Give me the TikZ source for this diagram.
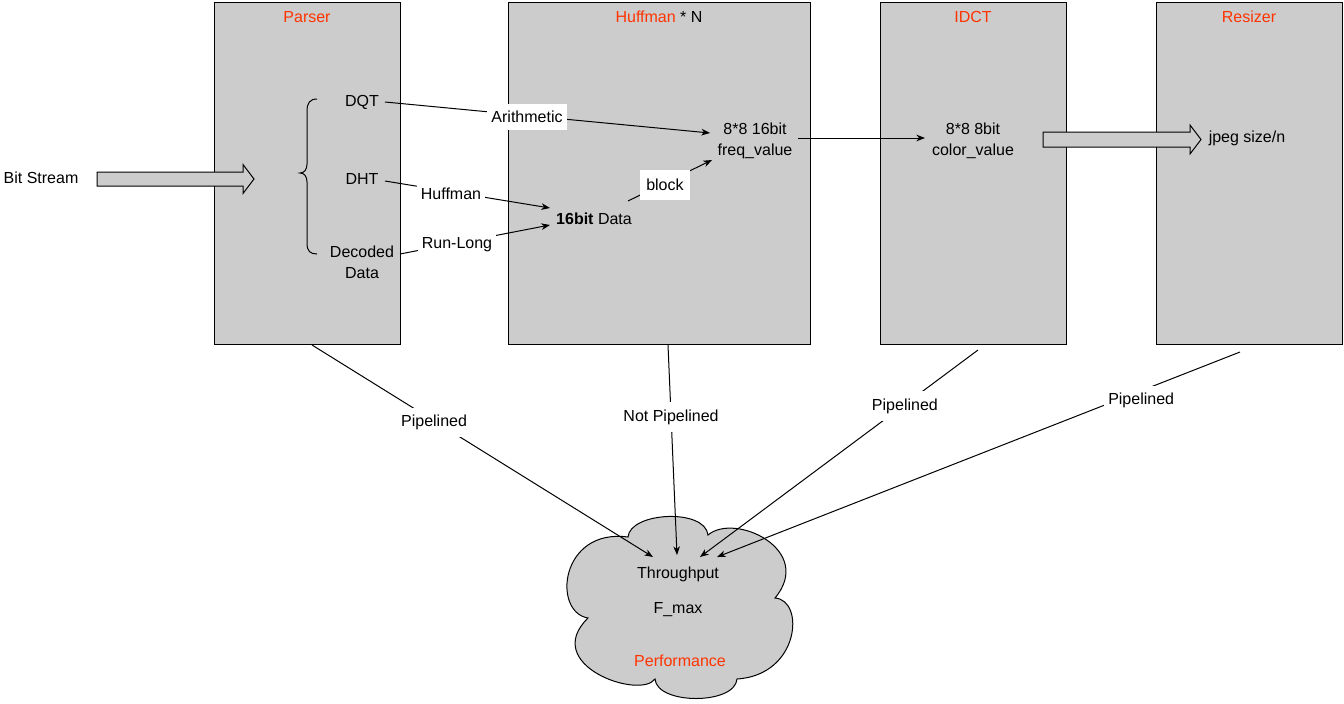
\documentclass[tikz,border=0pt]{standalone}
\usepackage{fontspec}
\setmainfont{Liberation Sans}
\usetikzlibrary{arrows.meta}
\definecolor{stagegrey}{HTML}{CCCCCC}
\definecolor{titlered}{HTML}{FF3300}

\begin{document}
\begin{tikzpicture}[x=0.75pt,y=-0.75pt,
  font=\fontsize{12}{15.5}\selectfont,
  stage/.style={draw=black, line width=0.75pt, fill=stagegrey, anchor=north west,
    inner sep=0pt, minimum height=256.5pt},
  title/.style={text=titlered, inner sep=0pt, yshift=-1.2pt},
  txt/.style={inner sep=0pt, align=center, yshift=-1.2pt},
  lbl/.style={fill=white, inner xsep=3pt, inner ysep=0pt, minimum height=20pt, yshift=-1.2pt},
  conn/.style={line width=0.75pt, -{Stealth[length=6.5pt,width=5pt,inset=2pt]}},
  plain/.style={line width=0.75pt},
  fat/.style={draw=black, line width=0.75pt, fill=stagegrey, line join=miter},
  cloudshape/.style={draw=black, line width=0.75pt, fill=stagegrey}
]
\useasboundingbox (0,0) rectangle (1344,703);

% pipeline stages
\node[stage, minimum width=139.5pt]  (parser)  at (214,1.5)  {};
\node[stage, minimum width=226.5pt]  (huffman) at (508,1.5)  {};
\node[stage, minimum width=139.5pt]  (idct)    at (880,1.5)  {};
\node[stage, minimum width=139.5pt]  (resizer) at (1156,1.5) {};

\node[title] (tParser)  at (307,15)  {Parser};
\node[txt] (tHuffman) at (659,15) {\textcolor{titlered}{Huffman} * N};
\node[title] (tIdct)    at (973,15)  {IDCT};
\node[title] (tResizer) at (1249,15) {Resizer};

% input stream and output size
\node[txt] (bits) at (41,176) {Bit Stream};
\draw[fat] (97,172) -- (243,172) -- (243,164.5) -- (254,179) -- (243,193.5)
  -- (243,186) -- (97,186) -- cycle;
\draw[fat] (1043,132) -- (1190,132) -- (1190,125) -- (1201,139.5) -- (1190,154)
  -- (1190,147) -- (1043,147) -- cycle;
\node[txt] (jpeg) at (1247,137) {jpeg size/n};

% parser outputs
\draw[plain] (317,99) .. controls (310,99) and (307,103) .. (307,111)
  -- (307,164) .. controls (307,170) and (304,173) .. (300,173)
  .. controls (304,173) and (307,176) .. (307,182)
  -- (307,243) .. controls (307,251) and (310,254) .. (317,254);
\node[txt] (dqt) at (362,101) {DQT};
\node[txt] (dht) at (362,177) {DHT};
\node[txt] (dec) at (362,261) {Decoded\\Data};

% huffman contents
\node[txt] (data16) at (594,217) {\textbf{16bit} Data};
\node[txt] (freq)   at (755,139) {8*8 16bit\\freq\_value};
\node[txt] (color)  at (973,139) {8*8 8bit\\color\_value};

\coordinate (dqtOut)  at (385,102);
\coordinate (dhtOut)  at (385,181);
\coordinate (decOut)  at (400,254);
\coordinate (dataInA) at (550,208);
\coordinate (dataInB) at (550,225);
\coordinate (dataOut) at (628,201);
\coordinate (freqInA) at (710,133);
\coordinate (freqInB) at (712,160);
\coordinate (freqOut) at (798,138);
\coordinate (colorIn) at (925,138);

\draw[conn] (dqtOut) -- node[lbl, pos=0.437] (lArith) {Arithmetic} (freqInA);
\draw[conn] (dhtOut) -- node[lbl, pos=0.4] (lHuff) {Huffman} (dataInA);
\draw[conn] (decOut) -- node[lbl, pos=0.38] (lRun) {Run-Long} (dataInB);
\draw[conn] (dataOut) -- node[lbl, pos=0.44, inner xsep=4.5pt, minimum height=22.5pt] (lBlock) {block} (freqInB);
\draw[conn] (freqOut) -- (colorIn);

% performance cloud
\draw[cloudshape] (628,537)
  .. controls (630,512) and (705,508) .. (708,535)
  .. controls (735,512) and (815,550) .. (775,598)
  .. controls (805,600) and (800,675) .. (737,679)
  .. controls (735,705) and (657,705) .. (655,679)
  .. controls (640,700) and (540,665) .. (588,618)
  .. controls (552,612) and (560,528) .. (628,537) -- cycle;
\node[txt] (thru) at (678,573) {Throughput};
\node[txt] (fmax) at (678,608) {F\_max};
\node[txt, text=titlered] (perf) at (680,659) {Performance};

\coordinate (parserOut)  at (312,345);
\coordinate (huffmanOut) at (668,345);
\coordinate (idctOut)    at (978,350);
\coordinate (resizerOut) at (1240,352);
\coordinate (perfA) at (653,557);
\coordinate (perfB) at (677,555);
\coordinate (perfC) at (700,557);
\coordinate (perfD) at (717,557);

\draw[conn] (parserOut) -- node[lbl, pos=0.358, minimum height=22pt] (lP1) {Pipelined} (perfA);
\draw[conn] (huffmanOut) -- node[lbl, pos=0.336, minimum height=22pt] (lNP) {Not Pipelined} (perfB);
\draw[conn] (idctOut) -- node[lbl, pos=0.263, minimum height=22pt] (lP2) {Pipelined} (perfC);
\draw[conn] (resizerOut) -- node[lbl, pos=0.189, yshift=-6pt, minimum height=22pt] (lP3) {Pipelined} (perfD);
\end{tikzpicture}
\end{document}
